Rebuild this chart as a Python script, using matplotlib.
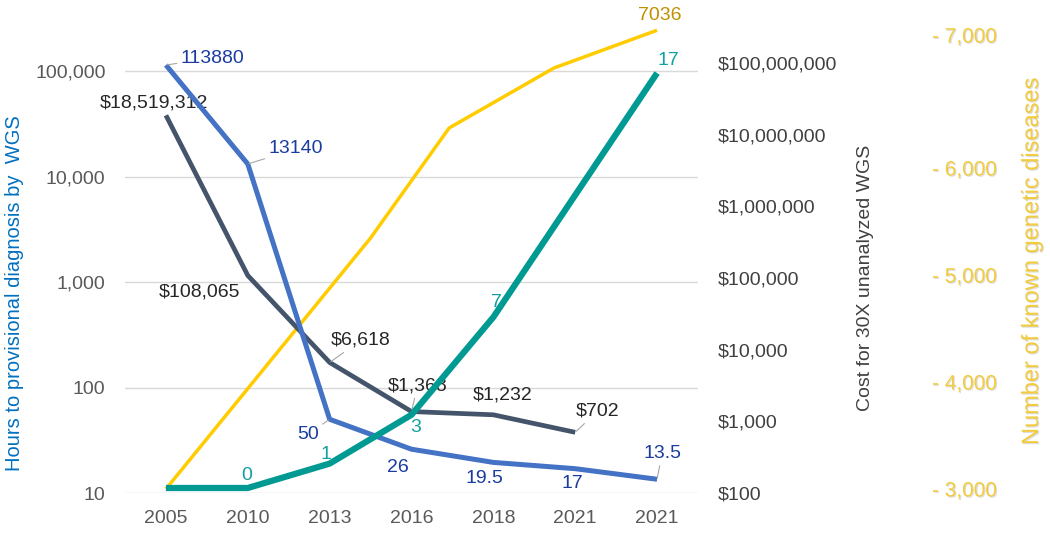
import numpy as np
import matplotlib.pyplot as plt
import matplotlib.patheffects as pe
from matplotlib.ticker import FixedLocator, FuncFormatter

plt.rcParams['font.family'] = ['Liberation Sans', 'DejaVu Sans']

years = ['2005', '2010', '2013', '2016', '2018', '2021', '2021']
hours = [113880, 13140, 50, 26, 19.5, 17, 13.5]
cost = [18519312, 108065, 6618, 1368, 1232, 702]
teal_vals = [0, 0, 1, 3, 7, 12, 17]
teal_labels = ['', '0', '1', '3', '7', '', '17']
disease_x = [0, 2.5, 3.46, 4.74, 6]
diseases = [3000, 5346, 6301, 6752, 7036]

hour_ticks = [10, 100, 1000, 10000, 100000]
cost_ticks = [100, 1000, 10000, 100000, 1000000, 10000000, 100000000]
disease_ticks = [3000, 4000, 5000, 6000, 7000]

BLUE = '#4472C4'
BLUE_TXT = '#1A3C9F'
NAVY = '#44546A'
TEAL = '#009A93'
TEAL_TXT = '#14A0A0'
GOLD = '#FFCC00'
GOLD_TXT = '#F2CC3E'
LEAD = '#A6A6A6'

shadow = [pe.SimplePatchShadow(offset=(0.8, -0.8), shadow_rgbFace='#909090', alpha=0.3), pe.Normal()]

fig = plt.figure(figsize=(10.5, 5.34), dpi=100)
# plot area in pixels: x 125..698, y 20..493 (from top)
ax = fig.add_axes([125 / 1050, 41 / 534, 573 / 1050, 473 / 534])
x = np.arange(len(years))

# left axis: hours (grid + ticks only)
ax.set_yscale('log')
ax.set_ylim(10, 10 ** (1 + 473 / 105.5))
ax.yaxis.set_major_locator(FixedLocator(hour_ticks))
ax.yaxis.set_minor_locator(FixedLocator([]))
ax.yaxis.set_major_formatter(FuncFormatter(lambda v, p: f'{v:,.0f}'))
ax.set_xlim(-0.5, 6.5)
ax.set_xticks(x)
ax.set_xticklabels(years)
ax.grid(axis='y', color='#D9D9D9', lw=1)
ax.tick_params(axis='both', length=0, labelsize=14, colors='#595959')
ax.tick_params(axis='y', pad=14)
ax.tick_params(axis='x', pad=12)
for s in ax.spines.values():
    s.set_visible(False)

# gold axis: number of known genetic diseases (stretched above 6000)
def fwd(v):
    v = np.asarray(v, float)
    return np.where(v <= 6000, v, 6000 + (v - 6000) * 1.243)

def inv(t):
    t = np.asarray(t, float)
    return np.where(t <= 6000, t, 6000 + (t - 6000) / 1.243)

ax_gold = ax.twinx()
ax_gold.set_yscale('function', functions=(fwd, inv))
ax_gold.set_ylim(2962.6, 7113)
ax_gold.yaxis.set_major_locator(FixedLocator(disease_ticks))
ax_gold.yaxis.set_minor_locator(FixedLocator([]))
ax_gold.yaxis.set_major_formatter(FuncFormatter(lambda v, p: f'- {v:,.0f}'))
ax_gold.spines['right'].set_position(('axes', (932 - 125) / 573))
ax_gold.tick_params(axis='y', length=0, pad=0, labelsize=15, colors=GOLD_TXT)
for t in ax_gold.get_yticklabels():
    t.set_path_effects(shadow)
ax_gold.plot(disease_x, diseases, color=GOLD, lw=2.5, solid_capstyle='butt')
ax_gold.annotate(f'{diseases[-1]}', (disease_x[-1], diseases[-1]), xytext=(3, 15),
                 textcoords='offset pixels', ha='center', va='center',
                 fontsize=14, color='#BF9000')

# cost axis
ax_cost = ax.twinx()
ax_cost.set_yscale('log')
ax_cost.set_ylim(100, 10 ** (2 + 473 / 71.7))
ax_cost.yaxis.set_major_locator(FixedLocator(cost_ticks))
ax_cost.yaxis.set_minor_locator(FixedLocator([]))
ax_cost.yaxis.set_major_formatter(FuncFormatter(lambda v, p: f'${v:,.0f}'))
ax_cost.tick_params(axis='y', length=0, pad=14, labelsize=14, colors='#404040')
ax_cost.plot(x[:len(cost)], cost, color=NAVY, lw=3.4, solid_capstyle='butt')

# blue hours line on its own overlay, same scale as left axis
ax_blue = ax.twinx()
ax_blue.set_yscale('log')
ax_blue.set_ylim(ax.get_ylim())
ax_blue.set_yticks([])
ax_blue.yaxis.set_minor_locator(FixedLocator([]))
ax_blue.plot(x, hours, color=BLUE, lw=3.6, solid_capstyle='butt')

# teal series on a hidden linear axis
ax_teal = ax.twinx()
ax_teal.set_ylim(-5 / 24.41, 468 / 24.41)
ax_teal.set_yticks([])
ax_teal.plot(x, teal_vals, color=TEAL, lw=4.5, solid_capstyle='butt')

for a in (ax_gold, ax_cost, ax_blue, ax_teal):
    a.patch.set_visible(False)
    for s in a.spines.values():
        s.set_visible(False)

# data labels
blue_pos = [('left', 15, 7, True), ('left', 21, 15, True), ('right', -11, -15, True),
            ('center', -14, -18, False), ('center', -9, -16, False),
            ('center', -3, -15, False), ('center', 5, 26, True)]
for i, (ha, dx, dy, lead) in enumerate(blue_pos):
    v = hours[i]
    ap = dict(arrowstyle='-', color=LEAD, lw=0.8, shrinkA=1, shrinkB=1) if lead else None
    ax_blue.annotate(f'{v:g}', (x[i], v), xytext=(dx, dy), textcoords='offset pixels',
                     ha=ha, va='center', fontsize=14, color=BLUE_TXT, arrowprops=ap)

cost_pos = [(-12, 12, False), (-48, -17, False), (31, 22, True),
            (6, 26, True), (9, 20, False), (22, 21, True)]
for i, (dx, dy, lead) in enumerate(cost_pos):
    v = cost[i]
    ap = dict(arrowstyle='-', color=LEAD, lw=0.8, shrinkA=1, shrinkB=1) if lead else None
    ax_cost.annotate(f'${v:,.0f}', (x[i], v), xytext=(dx, dy), textcoords='offset pixels',
                     ha='center', va='center', fontsize=14, color='#262626', arrowprops=ap)

teal_pos = [(0, 0), (-1, 12), (-4, 9), (4, -13), (3, 15), (0, 0), (11, 13)]
for i, lab in enumerate(teal_labels):
    if not lab:
        continue
    dx, dy = teal_pos[i]
    ax_teal.annotate(lab, (x[i], teal_vals[i]), xytext=(dx, dy), textcoords='offset pixels',
                     ha='center', va='center', fontsize=14, color=TEAL_TXT)

# axis titles
fig.text(15 / 1050, 1 - 293 / 534, 'Hours to provisional diagnosis by  WGS', rotation=90,
         ha='center', va='center', fontsize=14.5, color='#0070C0')
fig.text(865 / 1050, 1 - 278 / 534, 'Cost for 30X unanalyzed WGS', rotation=90,
         ha='center', va='center', fontsize=14, color='#404040')
fig.text(1032 / 1050, 1 - 261 / 534, 'Number of known genetic diseases', rotation=90,
         ha='center', va='center', fontsize=17, color=GOLD_TXT, path_effects=shadow)

fig.savefig('out.png', dpi=100)
